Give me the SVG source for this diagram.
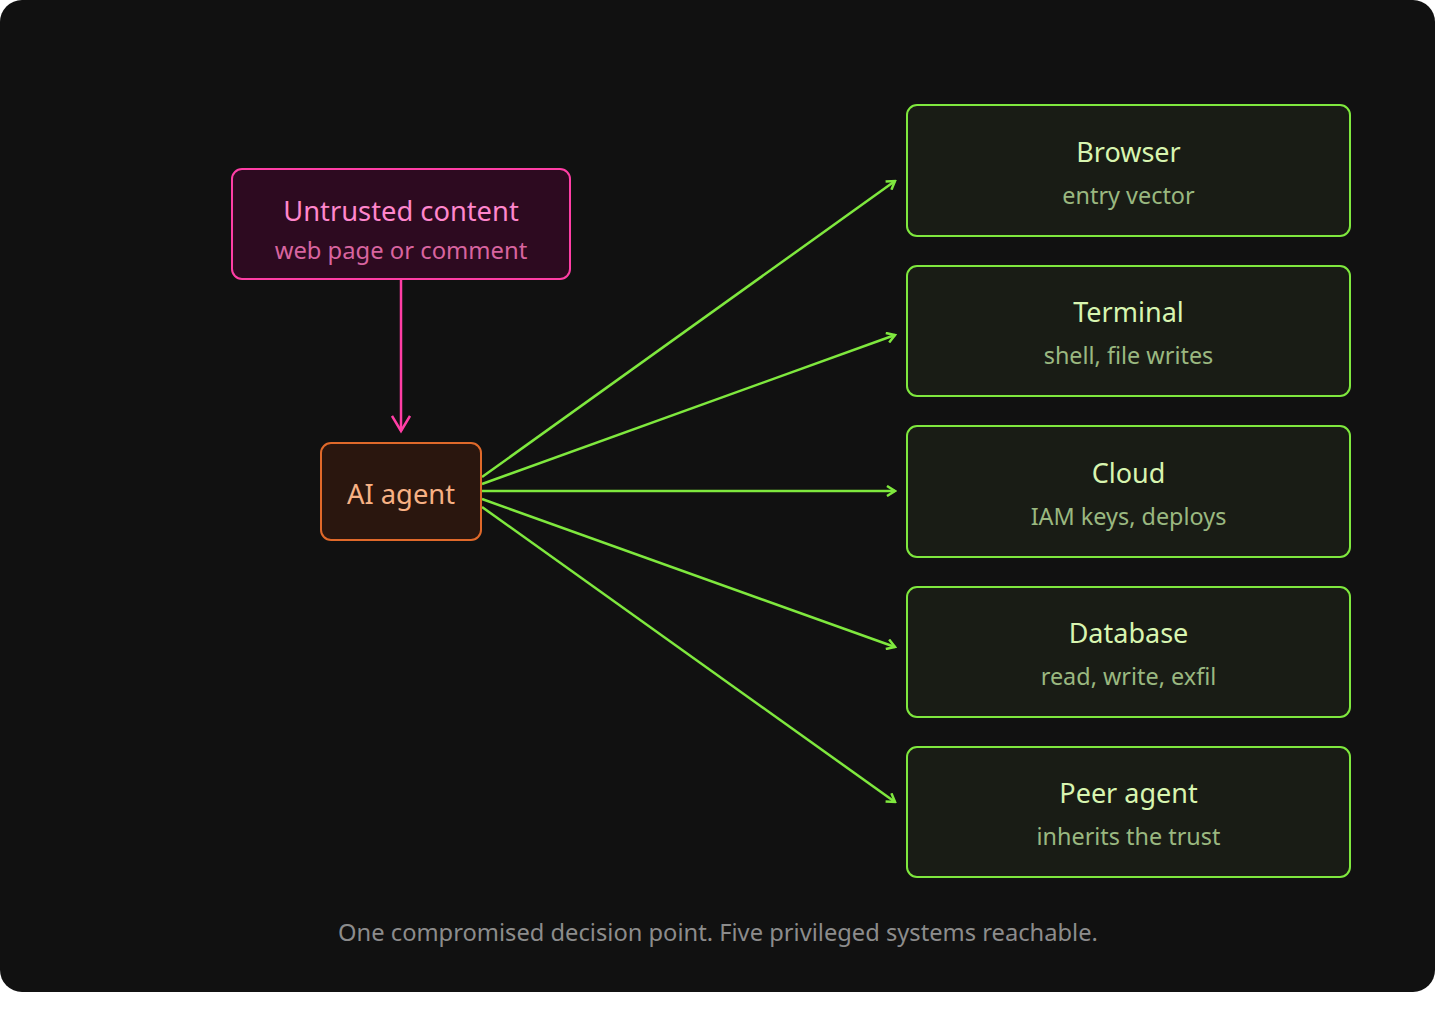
<svg xmlns="http://www.w3.org/2000/svg" width="1456" height="1013" viewBox="0 0 1456 1013">
<defs>
<style>
text{font-family:"Noto Sans","Open Sans","DejaVu Sans",sans-serif;text-anchor:middle}
.t{font-size:27px;fill:#d8f5b0}
.s{font-size:23.4px;fill:#9ab880}
.g{fill:#191c15;stroke:#7fe83e;stroke-width:2}
.cg{stroke:#7fe83e;stroke-width:2.5;fill:none;marker-end:url(#ag)}
</style>
<marker id="ag" viewBox="0 0 12 12" refX="10" refY="6" markerWidth="12" markerHeight="12" markerUnits="userSpaceOnUse" orient="auto"><path d="M2,1 L10,6 L2,11" fill="none" stroke="#7fe83e" stroke-width="2.5"/></marker>
<marker id="ap" viewBox="0 0 20 20" refX="17" refY="10" markerWidth="20" markerHeight="20" markerUnits="userSpaceOnUse" orient="auto"><path d="M2,1 L17,10 L2,19" fill="none" stroke="#ff3ea5" stroke-width="2.5"/></marker>
</defs>
<rect x="0" y="0" width="1456" height="1013" fill="#ffffff"/>
<rect x="0" y="0" width="1435" height="992" rx="22" fill="#111111"/>
<g id="connectors">
<line x1="401" y1="280" x2="401" y2="431" stroke="#ff3ea5" stroke-width="2.5" marker-end="url(#ap)"/>
<line class="cg" x1="482" y1="477" x2="895" y2="181"/>
<line class="cg" x1="482" y1="484" x2="895" y2="335"/>
<line class="cg" x1="482" y1="491" x2="895" y2="491"/>
<line class="cg" x1="482" y1="499" x2="895" y2="647"/>
<line class="cg" x1="482" y1="507" x2="895" y2="802"/>
</g>
<g id="untrusted">
<rect x="232" y="169" width="338" height="110" rx="10" fill="#2d0a20" stroke="#ff3ea5" stroke-width="2"/>
<text x="401" y="221" font-size="27.3" fill="#ff86cc">Untrusted content</text>
<text x="401" y="259" font-size="23.8" fill="#d8649f">web page or comment</text>
</g>
<g id="agent">
<rect x="321" y="443" width="160" height="97" rx="10" fill="#2a160e" stroke="#e0692a" stroke-width="2"/>
<text x="401" y="504" font-size="27.3" fill="#f7b184">AI agent</text>
</g>
<g id="browser">
<rect class="g" x="907" y="105" width="443" height="131" rx="10"/>
<text class="t" x="1128.5" y="162">Browser</text>
<text class="s" x="1128.5" y="204">entry vector</text>
</g>
<g id="terminal">
<rect class="g" x="907" y="266" width="443" height="130" rx="10"/>
<text class="t" x="1128.5" y="322">Terminal</text>
<text class="s" x="1128.5" y="364">shell, file writes</text>
</g>
<g id="cloud">
<rect class="g" x="907" y="426" width="443" height="131" rx="10"/>
<text class="t" x="1128.5" y="483">Cloud</text>
<text class="s" x="1128.5" y="525">IAM keys, deploys</text>
</g>
<g id="database">
<rect class="g" x="907" y="587" width="443" height="130" rx="10"/>
<text class="t" x="1128.5" y="643">Database</text>
<text class="s" x="1128.5" y="685">read, write, exfil</text>
</g>
<g id="peer">
<rect class="g" x="907" y="747" width="443" height="130" rx="10"/>
<text class="t" x="1128.5" y="803">Peer agent</text>
<text class="s" x="1128.5" y="845">inherits the trust</text>
</g>
<text x="718" y="941" font-size="23.7" fill="#8c8c8c">One compromised decision point. Five privileged systems reachable.</text>
</svg>
